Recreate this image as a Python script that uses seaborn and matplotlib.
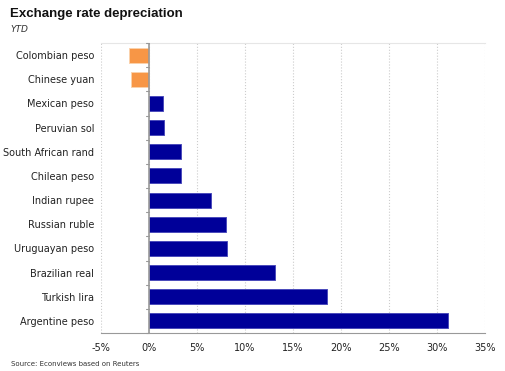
import numpy as np
import pandas as pd
import matplotlib.pyplot as plt
import seaborn as sns
from matplotlib.ticker import FuncFormatter

# YTD depreciation, percent
currencies = ['Colombian peso', 'Chinese yuan', 'Mexican peso', 'Peruvian sol',
              'South African rand', 'Chilean peso', 'Indian rupee', 'Russian ruble',
              'Uruguayan peso', 'Brazilian real', 'Turkish lira', 'Argentine peso']
values = [-2.1, -1.9, 1.5, 1.6, 3.3, 3.3, 6.5, 8.0, 8.1, 13.1, 18.5, 31.1]

df = pd.DataFrame({'currency': currencies, 'value': values})
df['sign'] = np.where(df['value'] < 0, 'neg', 'pos')

sns.set_style('white')
plt.rcParams['font.family'] = ['DejaVu Sans']

fig = plt.figure(figsize=(5.06, 3.71), dpi=100)
ax = fig.add_axes([0.1996, 0.1024, 0.7589, 0.7817])

sns.barplot(data=df, x='value', y='currency', hue='sign', orient='h',
            palette={'neg': '#F79646', 'pos': '#000099'}, width=0.62,
            saturation=1, dodge=False, legend=False, ax=ax)
for p in ax.patches:
    p.set_edgecolor('#4b4bbb' if p.get_facecolor()[2] > 0.5 else '#fbd2ac')
    p.set_linewidth(0.7)

ax.set_xlim(-5, 35)
ax.set_ylim(len(currencies) - 0.5, -0.5)
ax.set_xticks(np.arange(-5, 36, 5))
ax.xaxis.set_major_formatter(FuncFormatter(lambda v, _: f'{v:.0f}%'))
ax.set_xlabel('')
ax.set_ylabel('')
ax.tick_params(axis='both', labelsize=7, colors='#222222', length=0, pad=5)
ax.tick_params(axis='x', length=4, color='#999999', pad=3)

ax.grid(axis='x', color='#cccccc', linestyle=':', linewidth=0.8)
ax.set_axisbelow(True)
for s in ['right', 'left']:
    ax.spines[s].set_visible(False)
ax.spines['top'].set_color('#e6e6e6')
ax.spines['top'].set_linewidth(0.8)
ax.spines['bottom'].set_color('#999999')
ax.axvline(0, color='#999999', linewidth=1.2, zorder=3)
# small ticks on zero axis between categories
for yb in np.arange(-0.5, len(currencies), 1):
    ax.plot([-0.35, 0], [yb, yb], color='#999999', linewidth=0.8, zorder=3, clip_on=False)

fig.text(0.02, 0.953, 'Exchange rate depreciation', fontsize=9.5, fontweight='bold',
         color='#111111', family=['Liberation Sans'])
fig.text(0.02, 0.913, 'YTD', fontsize=6.5, style='italic', color='#333333')
fig.text(0.022, 0.013, 'Source: Econviews based on Reuters', fontsize=5, color='#333333')

fig.savefig('out.png', dpi=100)
